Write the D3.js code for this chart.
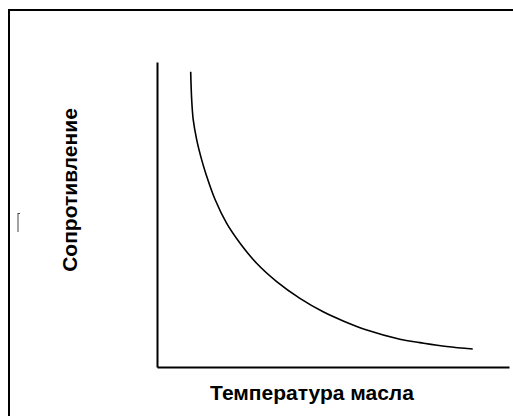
<!DOCTYPE html>
<html><head><meta charset="utf-8">
<script src="https://cdn.jsdelivr.net/npm/d3@7"></script>
<style>html,body{margin:0;padding:0;background:#fff;overflow:hidden;width:513px;height:416px;}svg{display:block;overflow:hidden;background:#fff;}</style>
</head><body>
<script>
const temperature = [9.57, 9.86, 10.3, 11.3, 12.7, 13.9, 16.5, 19.8, 23.6, 28.3, 34.0, 40.6, 47.2, 52.9, 59.6, 69.0, 74.7, 82.3, 89.7];
const resistance  = [96.8, 87.5, 81.0, 74.4, 67.9, 63.3, 54.9, 47.1, 40.6, 34.0, 28.0, 22.5, 18.1, 15.1, 12.1, 9.1, 8.0, 6.7, 5.9];
const xTitle = "Температура масла";
const yTitle = "Сопротивление";

const W = 513, H = 416;
const svg = d3.select("body").append("svg").attr("width", W).attr("height", H);

// frame (only top/left edges fall inside the picture)
svg.append("path").attr("d", "M9,416 V10 H513")
  .attr("fill", "none").attr("stroke", "#000").attr("stroke-width", 2);

const x = d3.scaleLinear().domain([0, 100]).range([157, 509]);
const y = d3.scaleLinear().domain([0, 100]).range([367, 62]);

// axes (no ticks)
svg.append("g").attr("transform", `translate(0,${y(0)})`)
  .call(d3.axisBottom(x).tickValues([]).tickSizeOuter(0))
  .call(g => g.select(".domain").attr("stroke-width", 2));
svg.append("g").attr("transform", `translate(${x(0)},0)`)
  .call(d3.axisLeft(y).tickValues([]).tickSizeOuter(0))
  .call(g => g.select(".domain").attr("stroke-width", 2));

const data = temperature.map((t, i) => ({t, r: resistance[i]}));
svg.append("path").datum(data)
  .attr("fill", "none").attr("stroke", "#000").attr("stroke-width", 1.6)
  .attr("d", d3.line().x(d => x(d.t)).y(d => y(d.r)).curve(d3.curveCatmullRom.alpha(0.5)));

svg.append("text").attr("x", 312).attr("y", 400).attr("text-anchor", "middle")
  .attr("font-family", "Liberation Sans, Arial, sans-serif").attr("font-weight", "bold")
  .attr("font-size", 21).attr("fill", "#000").text(xTitle);

svg.append("text").attr("transform", "translate(77,190) rotate(-90)").attr("text-anchor", "middle")
  .attr("font-family", "Liberation Sans, Arial, sans-serif").attr("font-weight", "bold")
  .attr("font-size", 21).attr("fill", "#000").text(yTitle);

// small stray mark at left
svg.append("path").attr("d", "M18,213 V232 M18,213.5 H20")
  .attr("stroke", "#444").attr("stroke-width", 1).attr("fill", "none");

// keep the right edge clean
svg.append("rect").attr("x", 510.5).attr("y", 11.5).attr("width", 3).attr("height", 405).attr("fill", "#fff");
</script>
</body></html>
